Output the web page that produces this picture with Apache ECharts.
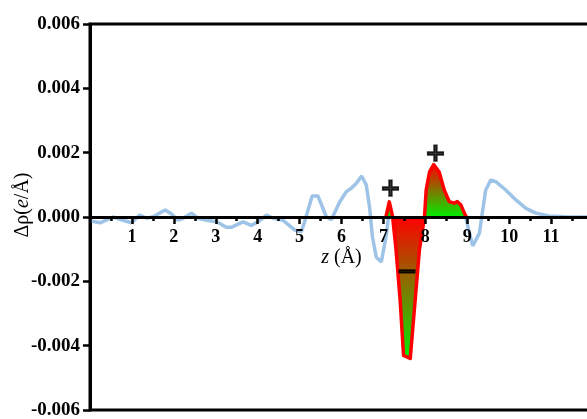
<!DOCTYPE html>
<html><head><meta charset="utf-8">
<script src="https://cdn.jsdelivr.net/npm/echarts@6/dist/echarts.min.js"></script>
<style>html,body{margin:0;padding:0;background:#fff}#c{width:587px;height:419px}</style>
</head><body><div id="c"></div>
<script>
// Blue curve (z in Å, Δρ in e/Å); null marks the gap under the red region
const blueZ = [0.00,0.24,0.55,0.79,0.99,1.19,1.35,1.51,1.79,1.94,2.10,2.22,2.42,2.58,2.78,3.02,3.25,3.37,3.65,3.85,4.01,4.21,4.37,4.60,4.88,5.04,5.12,5.30,5.44,5.64,5.76,5.95,6.11,6.24,6.36,6.48,6.59,6.67,6.74,6.83,6.95,7.07,7.12,null,8.96,9.13,9.29,9.44,9.56,9.68,9.92,10.16,10.40,10.64,10.95,11.35,12.00];
const blueRho = [-0.00012,-0.00018,0.00000,-0.00010,-0.00018,0.00006,-0.00004,0.00001,0.00022,0.00010,-0.00010,-0.00004,0.00012,-0.00004,-0.00010,-0.00015,-0.00032,-0.00032,-0.00015,-0.00026,-0.00015,0.00006,-0.00004,-0.00010,-0.00040,-0.00046,-0.00015,0.00065,0.00065,0.00000,-0.00008,0.00045,0.00078,0.00090,0.00106,0.00127,0.00100,0.00030,-0.00063,-0.00125,-0.00140,-0.00055,0.00000,null,0.00000,-0.00090,-0.00050,0.00084,0.00115,0.00110,0.00084,0.00053,0.00027,0.00012,0.00003,0.00001,0.00000];
// Red highlighted region
const redZ = [7.06,7.14,7.22,7.30,7.40,7.48,7.64,7.86,7.98,8.02,8.10,8.20,8.33,8.45,8.57,8.69,8.76,8.85,8.93,8.98];
const redRho = [0,0.00047,0,-0.0010,-0.0026,-0.0043,-0.0044,-0.0010,0,0.00084,0.00140,0.00163,0.00140,0.00084,0.00048,0.00043,0.00048,0.00037,0.00012,0];
// Annotations
const annZ = [7.17, 8.24, 7.57];
const annRho = [0.00085, 0.00193, -0.00172];
const annText = ['+', '+', '\u2212'];
// Tick labels
const xTickLabels = {1:'1',2:'2',3:'3',4:'4',5:'5',6:'6',7:'7',8:'8',9:'9',10:'10',11:'11'};
const yTickLabels = ['-0.006','-0.004','-0.002','0.000','0.002','0.004','0.006'];

const FONT = "'Liberation Serif','Times New Roman',serif";
const pair = (xs, ys) => xs.map((x, i) => [x, ys[i]]);
const blueData = blueZ.map((x, i) => x === null ? '-' : [x, blueRho[i]]);
const posArea = pair(redZ, redRho.map(v => Math.max(v, 0)));
const negArea = pair(redZ, redRho.map(v => Math.min(v, 0)));
const grad = () => new echarts.graphic.LinearGradient(0, 0, 0, 1, [
  {offset: 0, color: '#ff0000'}, {offset: 1, color: '#00ee00'}]);

const chart = echarts.init(document.getElementById('c'), null, {renderer: 'canvas'});
chart.setOption({
  animation: false,
  grid: {left: 90, top: 24, right: -6, bottom: 9, containLabel: false, outerBoundsMode: 'none',
    show: true, borderColor: '#000', borderWidth: 3, backgroundColor: 'transparent'},
  xAxis: {
    type: 'value', min: 0, max: 12, interval: 1, z: 5, position: 'bottom', offset: -193,
    axisLine: {onZero: false, lineStyle: {color: '#000', width: 3}},
    axisTick: {show: true, inside: false, length: 7, lineStyle: {color: '#000', width: 2.5}},
    minorTick: {show: true, splitNumber: 2, length: 4, lineStyle: {color: '#000', width: 2.5}},
    splitLine: {show: false},
    axisLabel: {margin: 11, color: '#000', fontFamily: FONT, fontWeight: 'bold', fontSize: 18,
      formatter: v => xTickLabels[Math.round(v)] || ''},
    name: '{i|z} (Å)', nameLocation: 'middle', nameGap: 31, nameMoveOverlap: false,
    nameTextStyle: {color: '#000', fontFamily: FONT, fontSize: 20,
      rich: {i: {fontStyle: 'italic', fontFamily: FONT, fontSize: 20, color: '#000'}}}
  },
  yAxis: {
    type: 'value', min: -0.006, max: 0.006, interval: 0.002,
    axisLine: {show: true, lineStyle: {color: '#000', width: 3}},
    axisTick: {show: true, inside: false, length: 7, lineStyle: {color: '#000', width: 2.5}},
    splitLine: {show: false},
    axisLabel: {margin: 10, color: '#000', fontFamily: FONT, fontWeight: 'bold', fontSize: 19,
      formatter: v => yTickLabels[Math.round((v + 0.006) / 0.002)]}
  },
  graphic: [{
    type: 'text', x: 23, y: 205, rotation: Math.PI / 2,
    style: {text: 'Δρ({i|e}/Å)', font: "20px 'Liberation Serif'", fill: '#000', align: 'center', verticalAlign: 'middle',
      rich: {i: {fontStyle: 'italic', fontFamily: 'Liberation Serif', fontSize: 20, fill: '#000'}}}
  }],
  series: [
    {type: 'line', data: posArea, symbol: 'none', z: 2, lineStyle: {width: 0, opacity: 0}, areaStyle: {color: grad(), opacity: 1}},
    {type: 'line', data: negArea, symbol: 'none', z: 2, lineStyle: {width: 0, opacity: 0}, areaStyle: {color: grad(), opacity: 1}},
    {type: 'line', data: blueData, symbol: 'none', z: 3, connectNulls: false, lineStyle: {color: '#9dc3e6', width: 3.5}},
    {type: 'line', data: pair(redZ, redRho), symbol: 'none', z: 3, lineStyle: {color: '#ff0000', width: 3.5, join: 'round'}},
    {type: 'scatter', data: annZ.map((x, i) => [x, annRho[i], annText[i]]), symbolSize: 0, z: 6,
      label: {show: true, position: 'inside', formatter: p => p.data[2], color: '#000', fontFamily: "'DejaVu Sans'",
        fontWeight: 'bold', fontSize: 25, textBorderColor: '#000', textBorderWidth: 1.5}}
  ]
});
</script></body></html>
